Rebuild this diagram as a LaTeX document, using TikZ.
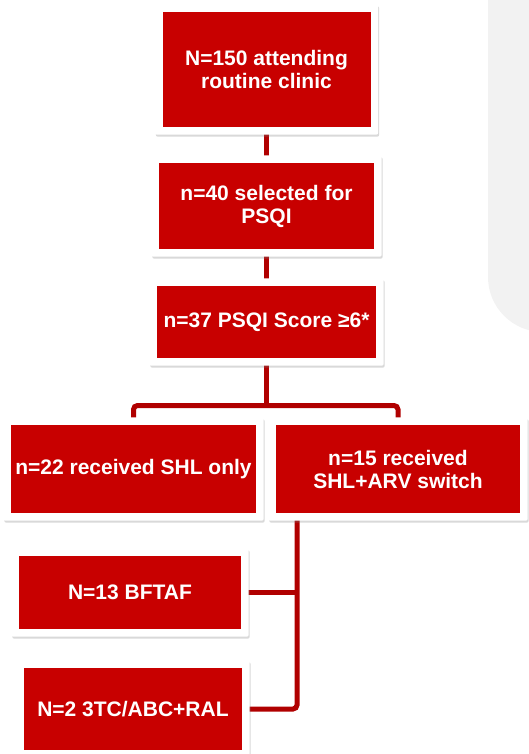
\documentclass[tikz,border=0pt]{standalone}
\usepackage{fontspec}
\setmainfont{Liberation Sans}
\usetikzlibrary{positioning,fit,backgrounds,shadows}
\definecolor{FlowRed}{HTML}{C80000}
\definecolor{LinkRed}{HTML}{B00000}
\definecolor{PanelGray}{HTML}{F2F2F2}

\begin{document}
\begin{tikzpicture}[x=1pt,y=-1pt,line width=.4pt,font=\bfseries\fontsize{21}{23}\selectfont,
 box/.style={fill=FlowRed,text=white,align=center,inner sep=0pt},
 frame/.style={fill=white,rounded corners=2pt,inner sep=7.5pt,
   drop shadow={shadow xshift=1pt,shadow yshift=-2pt,opacity=.3}},
 link/.style={draw=LinkRed,line width=5pt}]
\useasboundingbox (0,0) rectangle (528,754);
\fill[PanelGray,rounded corners=55pt] (488,-80)--(488,332)--(620,332)--(620,-80)--cycle;
\node[box,minimum width=208pt,minimum height=115pt] (clinic) at (266.5,69.5) {N=150 attending\\routine clinic};
\node[box,minimum width=215pt,minimum height=86pt] (psqi) at (266.5,206) {n=40 selected for\\PSQI};
\node[box,minimum width=219pt,minimum height=72pt] (score) at (266.5,322) {n=37 PSQI Score ≥6*};
\node[box,minimum width=245pt,minimum height=88pt] (shl) at (133.5,469) {n=22 received SHL only};
\node[box,minimum width=244pt,minimum height=88pt] (arv) at (398,469) {n=15 received\\SHL+ARV switch};
\node[box,minimum width=222pt,minimum height=73pt] (bftaf) at (130,592.5) {N=13 BFTAF};
\node[box,minimum width=218pt,minimum height=82pt] (ral) at (133,709) {N=2 3TC/ABC+RAL};
\begin{scope}[on background layer]
 \draw[link] (clinic)--(psqi);
 \draw[link] (psqi)--(score);
 \coordinate (fork) at (266.5,405.5);
 \draw[link] (score)--(fork);
 \draw[link,rounded corners=4pt] (shl) |- (fork) -| (arv);
 \coordinate (trunk) at (297,469);
 \draw[link,rounded corners=4pt] (trunk) |- (ral);
 \draw[link] (bftaf)--(bftaf -| trunk);
 \foreach \n in {clinic,psqi,score,shl,arv,bftaf,ral}{\node[frame,fit=(\n)] {};}
\end{scope}
\end{tikzpicture}
\end{document}
